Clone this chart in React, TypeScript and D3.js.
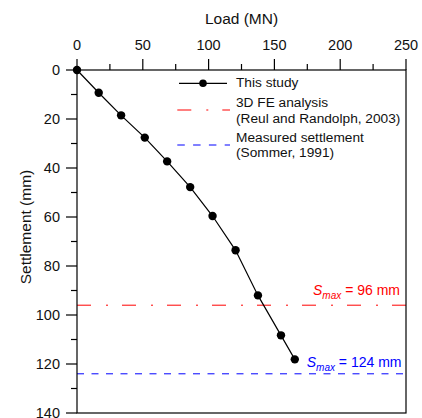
import React from "react";
import * as d3 from "d3";

const loads = [0, 16.5, 33.5, 51.5, 68.5, 86, 103, 120.5, 137.5, 155, 165.5];
const settlements = [0, 9.3, 18.5, 27.6, 37.3, 47.8, 59.6, 73.6, 92, 108.3, 118.1];
const xTicks = [0, 50, 100, 150, 200, 250];
const xMinorTicks = [25, 75, 125, 175, 225];
const yTicks = [0, 20, 40, 60, 80, 100, 120, 140];
const yMinorTicks = [10, 30, 50, 70, 90, 110, 130];
const feSmax = 96;
const measuredSmax = 124;

const W = 422;
const H = 418;
const L = 77;
const R = 406;
const T = 70;
const B = 413;
const FONT = "'Liberation Sans', Arial, sans-serif";

export default function App() {
  const x = d3.scaleLinear().domain([0, 250]).range([L, R]);
  const y = d3.scaleLinear().domain([0, 140]).range([T, B]);
  const pts = loads.map((l, i) => [l, settlements[i]] as [number, number]);
  const line = d3
    .line<[number, number]>()
    .x((d) => x(d[0]))
    .y((d) => y(d[1]));

  return (
    <svg
      width={W}
      height={H}
      style={{ position: "absolute", left: 0, top: 0, background: "#fff" }}
      fontFamily={FONT}
    >
      <rect x={0} y={0} width={W} height={H} fill="#fff" />
      {/* reference lines */}
      <line
        x1={L}
        x2={R}
        y1={y(feSmax)}
        y2={y(feSmax)}
        stroke="#ff0000"
        strokeWidth={1}
        strokeDasharray="14 15 2 14"
      />
      <line
        x1={L}
        x2={R}
        y1={y(measuredSmax)}
        y2={y(measuredSmax)}
        stroke="#0000ff"
        strokeWidth={1}
        strokeDasharray="7 7.5"
      />
      {/* frame */}
      <rect x={L} y={T} width={R - L} height={B - T} fill="none" stroke="#000" strokeWidth={1.2} />
      {/* x ticks (top) */}
      {xTicks.map((t) => (
        <g key={"xt" + t}>
          <line x1={x(t)} x2={x(t)} y1={T} y2={T - 11} stroke="#000" strokeWidth={1.2} />
          <text x={x(t)} y={50} textAnchor="middle" fontSize={14.5} fill="#111">
            {t}
          </text>
        </g>
      ))}
      {xMinorTicks.map((t) => (
        <line key={"xm" + t} x1={x(t)} x2={x(t)} y1={T} y2={T - 6} stroke="#000" strokeWidth={1.2} />
      ))}
      {/* y ticks */}
      {yTicks.map((t) => (
        <g key={"yt" + t}>
          <line x1={L} x2={L - 11} y1={y(t)} y2={y(t)} stroke="#000" strokeWidth={1.2} />
          <text x={60} y={y(t) + 5} textAnchor="end" fontSize={14.5} fill="#111">
            {t}
          </text>
        </g>
      ))}
      {yMinorTicks.map((t) => (
        <line key={"ym" + t} x1={L} x2={L - 6} y1={y(t)} y2={y(t)} stroke="#000" strokeWidth={1.2} />
      ))}
      {/* axis titles */}
      <text x={(L + R) / 2} y={24} textAnchor="middle" fontSize={15.5} fill="#111">
        Load (MN)
      </text>
      <text
        transform={`translate(31, 227) rotate(-90)`}
        textAnchor="middle"
        fontSize={15.5}
        fill="#111"
      >
        Settlement (mm)
      </text>
      {/* data */}
      <path d={line(pts) || ""} fill="none" stroke="#000" strokeWidth={1.2} />
      {pts.map((p, i) => (
        <circle key={"p" + i} cx={x(p[0])} cy={y(p[1])} r={4.2} fill="#000" />
      ))}
      {/* Smax labels */}
      <text x={400} y={295} textAnchor="end" fontSize={14} fill="#ff0000">
        <tspan fontStyle="italic">S</tspan>
        <tspan fontStyle="italic" fontSize={10} dy={4}>max</tspan>
        <tspan dy={-4}> = 96 mm</tspan>
      </text>
      <text x={401.5} y={367} textAnchor="end" fontSize={14} fill="#0000ff">
        <tspan fontStyle="italic">S</tspan>
        <tspan fontStyle="italic" fontSize={10} dy={4}>max</tspan>
        <tspan dy={-4}> = 124 mm</tspan>
      </text>
      {/* legend */}
      <line x1={179} x2={227} y1={83.3} y2={83.3} stroke="#000" strokeWidth={1.2} />
      <circle cx={203} cy={83.3} r={3.8} fill="#000" />
      <text x={236} y={87.3} fontSize={13.7} fill="#111">This study</text>
      <line
        x1={177.3}
        x2={230}
        y1={110}
        y2={110}
        stroke="#ff0000"
        strokeWidth={1}
        strokeDasharray="14 15 2 14"
      />
      <text x={236} y={107.3} fontSize={13.7} fill="#111">3D FE analysis</text>
      <text x={236} y={122.5} fontSize={13.7} fill="#111">(Reul and Randolph, 2003)</text>
      <line
        x1={177.3}
        x2={230}
        y1={145}
        y2={145}
        stroke="#0000ff"
        strokeWidth={1}
        strokeDasharray="7.5 8.3"
      />
      <text x={236} y={141.7} fontSize={13.7} fill="#111">Measured settlement</text>
      <text x={236} y={156.7} fontSize={13.7} fill="#111">(Sommer, 1991)</text>
    </svg>
  );
}
